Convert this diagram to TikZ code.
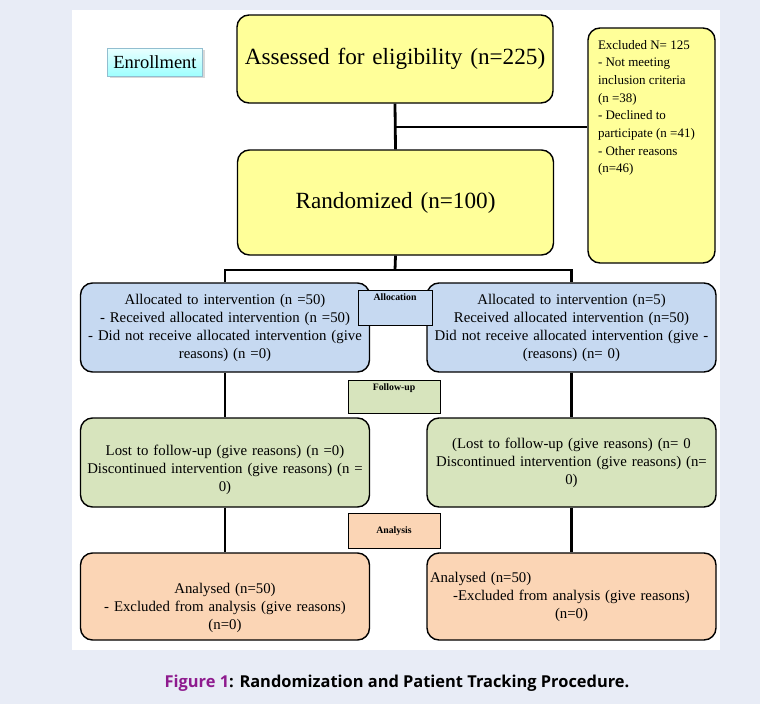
\documentclass[tikz,border=0pt]{standalone}
\usepackage{fontspec}
\setmainfont{Liberation Serif}
\newfontfamily\capfont{Open Sans}
\usetikzlibrary{shadows}
\definecolor{pagebg}{HTML}{E8ECF6}
\definecolor{boxyellow}{HTML}{FFFF99}
\definecolor{boxblue}{HTML}{C6D9F1}
\definecolor{boxgreen}{HTML}{D7E4BD}
\definecolor{boxpeach}{HTML}{FBD5B5}
\definecolor{figpurple}{HTML}{8E1A8E}

\begin{document}
\begin{tikzpicture}
[
    x=1pt, y=-1pt,
    stagebox/.style={draw, line width=1.4pt, rounded corners=12pt, align=center,
        inner sep=3pt, text width=283pt, minimum height=89pt,
        font=\fontsize{14.8}{18}\selectfont},
    bigbox/.style={stagebox, fill=boxyellow, text width=310pt, font=\fontsize{23.2}{27}\selectfont},
    phase/.style={draw, line width=0.6pt, inner sep=3pt, text height=7pt,
        font=\fontsize{9.8}{10}\selectfont\bfseries},
    link/.style={line width=2.8pt},
]
\fill[pagebg] (0,0) rectangle (760,704);
\fill[white] (72,10) rectangle (720,650);

\node [draw=cyan!45!gray!70, top color=cyan!8, bottom color=cyan!38, drop shadow={opacity=0.3},
    minimum width=95pt, minimum height=28pt, font=\fontsize{18.5}{20}\selectfont]
    (enrol) at (155,62) {Enrollment};
\node [bigbox, minimum height=88pt] (assess) at (395,59) {Assessed for eligibility (n=225)};
\node [bigbox, minimum height=105pt] (rand) at (395.5,202.5) {Randomized (n=100)};
\node [draw, line width=1.4pt, rounded corners=12pt, fill=boxyellow, inner xsep=10pt, inner ysep=0pt,
    font=\fontsize{13}{17.7}\selectfont]
    (excl) at (651.5,145.5)
    {\parbox[c][235pt][t]{107pt}{\vspace{12pt}Excluded N= 125\\
    - Not meeting\\
    inclusion criteria\\
    (n =38)\\
    - Declined to\\
    participate (n =41)\\
    - Other reasons\\
    (n=46)}};

\node [stagebox, fill=boxblue] (allocL) at (225,327.5)
{Allocated to intervention (n =50)\\
- Received allocated intervention (n =50)\\
- Did not receive allocated intervention (give\\
reasons) (n =0)};
\node [stagebox, fill=boxblue] (allocR) at (571.5,327.5)
{Allocated to intervention (n=5)\\
Received allocated intervention (n=50)\\
Did not receive allocated intervention (give -\\
(reasons) (n= 0)};
\node [phase, fill=boxblue, minimum width=74pt, text depth=22pt] (allocation) at (395,307.5) {Allocation};

\node [phase, fill=boxgreen, minimum width=92pt, text depth=20pt] (followup) at (394,396.5) {Follow-up};
\node [stagebox, fill=boxgreen] (fuL) at (225,462.5)
{\rule{0pt}{26pt}Lost to follow-up (give reasons) (n =0)\\
Discontinued intervention (give reasons) (n =\\
0)};
\node [stagebox, fill=boxgreen] (fuR) at (571.5,462.5)
{(Lost to follow-up (give reasons) (n= 0\\
Discontinued intervention (give reasons) (n=\\
0)};

\node [phase, fill=boxpeach, minimum width=92pt, text height=17pt, text depth=12pt] (analysis) at (394,530.5) {Analysis};
\node [stagebox, fill=boxpeach, minimum height=87pt] (anL) at (225,596.5)
{\rule{0pt}{34pt}Analysed (n=50)\\
- Excluded from analysis (give reasons)\\
(n=0)};
\node [stagebox, fill=boxpeach, minimum height=87pt] (anR) at (571.5,596.5)
{\makebox[\linewidth][l]{Analysed (n=50)}\\
-Excluded from analysis (give reasons)\\
(n=0)};

\coordinate (branch) at (395,127);
\coordinate (split) at (395,270);
\draw [link] (assess.south) -- (rand.north);
\draw [link] (branch) -- (branch -| excl.west);
\draw [link] (rand.south) -- (split);
\draw [link] (allocL.north) -- (allocL.north |- split) -- (allocR.north |- split) -- (allocR.north);
\draw [link] (allocL.south) -- (fuL.north);
\draw [link] (allocR.south) -- (fuR.north);
\draw [link] (fuL.south) -- (anL.north);
\draw [link] (fuR.south) -- (anR.north);

\node [font=\capfont\bfseries\fontsize{16.4}{19}\selectfont] (caption) at (397,683)
{{\color{figpurple}Figure 1}: Randomization and Patient Tracking Procedure.};
\end{tikzpicture}
\end{document}
